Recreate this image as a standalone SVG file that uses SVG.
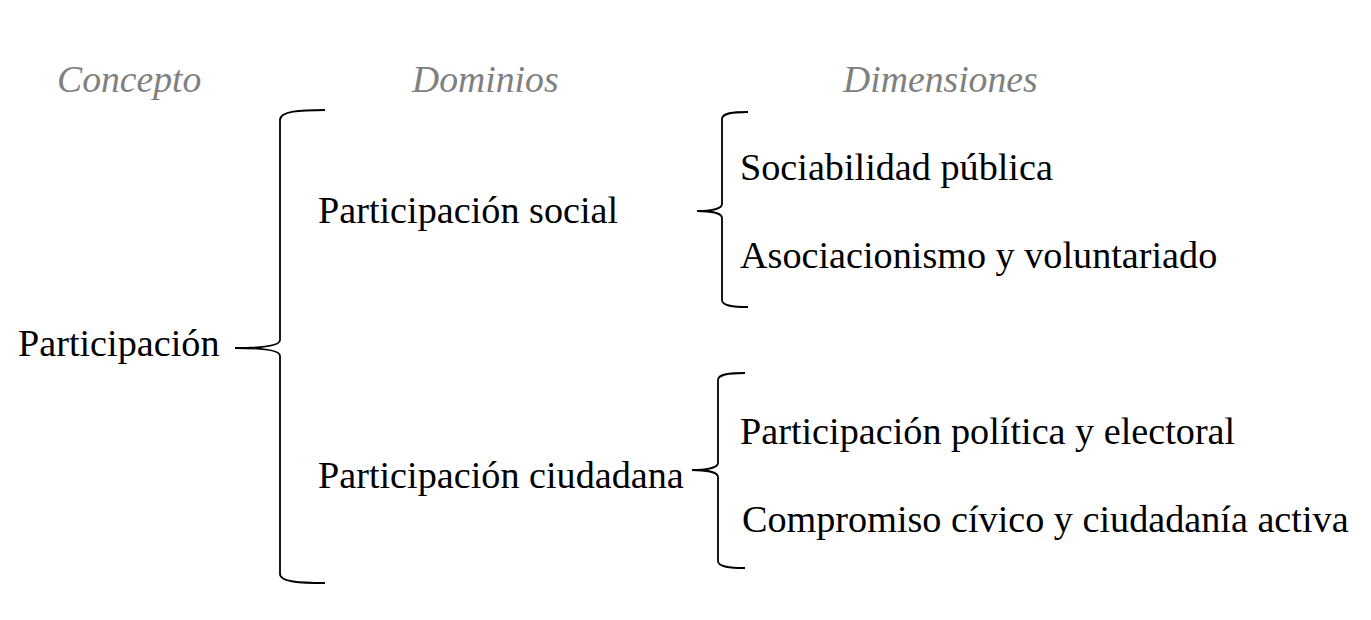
<svg xmlns="http://www.w3.org/2000/svg" width="1371" height="620" viewBox="0 0 1371 620">
<style>
.hdr{font-family:"Liberation Serif","Times New Roman",serif;font-style:italic;font-size:37.7px;fill:#808080}
.lbl{font-family:"Liberation Serif","Times New Roman",serif;font-size:38.2px;fill:#000}
.br{fill:none;stroke:#000;stroke-width:1.8}
</style>
<rect width="1371" height="620" fill="#fff"/>
<g id="headers">
<text class="hdr" x="57" y="92">Concepto</text>
<text class="hdr" x="412" y="92">Dominios</text>
<text class="hdr" x="843" y="92">Dimensiones</text>
</g>
<g id="connectors">
<path class="br" d="M325,110 C300,110 280,111 280,120 L280,340 C280,346 262,348 235,348 C262,348 280,350 280,356 L280,574 C280,582 300,583 325,583"/>
<path class="br" d="M748,112 C733,112 722,113 722,119 L722,204 C722,209 710,211 697,211 C710,211 722,213 722,218 L722,300 C722,306 733,307 748,307"/>
<path class="br" d="M745,373 C730,373 718,374 718,380 L718,463 C718,468 705,470 692,470 C705,470 718,472 718,477 L718,561 C718,567 730,568 745,568"/>
</g>
<g id="n-participacion"><text class="lbl" x="18" y="356">Participación</text></g>
<g id="n-social"><text class="lbl" x="318" y="223">Participación social</text></g>
<g id="n-ciudadana"><text class="lbl" x="318" y="488">Participación ciudadana</text></g>
<g id="n-sociabilidad"><text class="lbl" x="740" y="180">Sociabilidad pública</text></g>
<g id="n-asociacionismo"><text class="lbl" x="740" y="268">Asociacionismo y voluntariado</text></g>
<g id="n-politica"><text class="lbl" x="740" y="444">Participación política y electoral</text></g>
<g id="n-compromiso"><text class="lbl" x="742" y="532">Compromiso cívico y ciudadanía activa</text></g>
</svg>
